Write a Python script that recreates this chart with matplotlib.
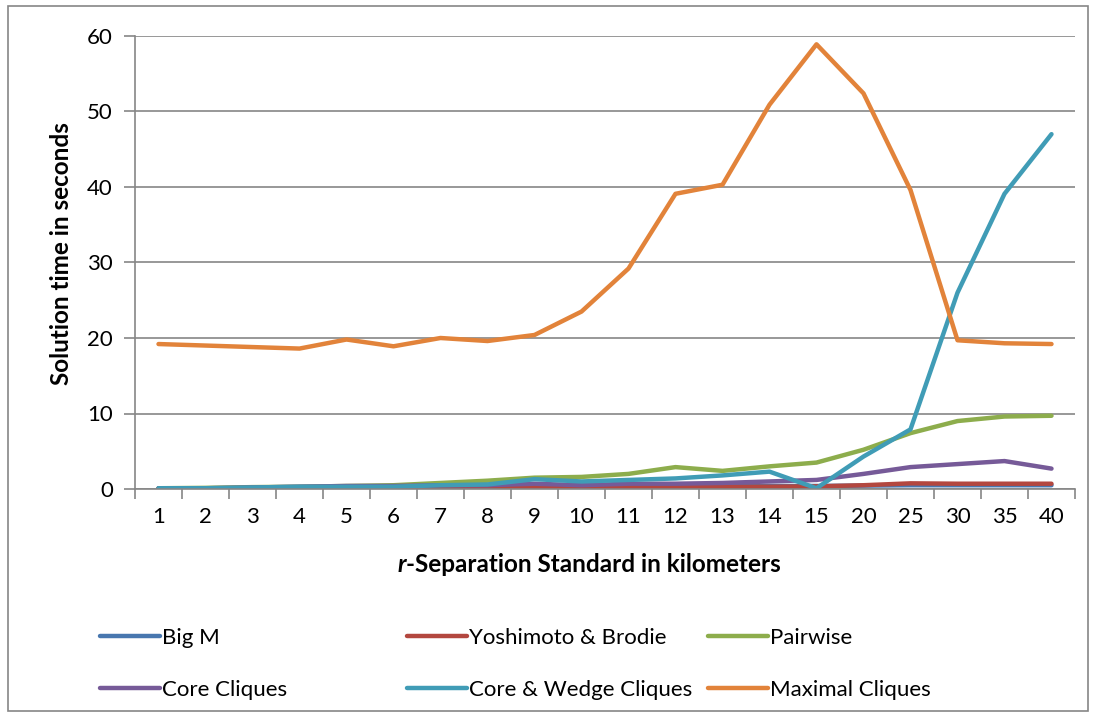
import matplotlib
matplotlib.use("Agg")
import matplotlib.pyplot as plt
from matplotlib.patches import Rectangle
import numpy as np

plt.rcParams['font.family'] = ['Lato', 'DejaVu Sans']

# r-separation standard (km) and solve times (s) for each formulation
separation = ["1", "2", "3", "4", "5", "6", "7", "8", "9", "10",
              "11", "12", "13", "14", "15", "20", "25", "30", "35", "40"]

big_m = [0.05, 0.05, 0.1, 0.1, 0.15, 0.15, 0.2, 0.2, 0.3, 0.3,
         0.3, 0.35, 0.35, 0.4, 0.4, 0.45, 0.5, 0.5, 0.5, 0.5]
yoshimoto_brodie = [0.05, 0.05, 0.1, 0.1, 0.1, 0.1, 0.15, 0.15, 0.2, 0.2,
                    0.25, 0.25, 0.3, 0.3, 0.35, 0.5, 0.75, 0.7, 0.7, 0.7]
pairwise = [0.1, 0.15, 0.25, 0.3, 0.4, 0.5, 0.8, 1.1, 1.5, 1.6,
            2.0, 2.9, 2.4, 3.0, 3.5, 5.2, 7.4, 9.0, 9.6, 9.7]
core_cliques = [0.1, 0.1, 0.2, 0.3, 0.4, 0.4, 0.5, 0.5, 0.7, 0.5,
                0.7, 0.7, 0.8, 1.0, 1.2, 2.0, 2.9, 3.3, 3.7, 2.7]
core_wedge = [0.1, 0.1, 0.2, 0.3, 0.3, 0.3, 0.5, 0.6, 1.3, 1.0,
              1.2, 1.4, 1.8, 2.3, 0.1, 4.3, 7.9, 26.0, 39.1, 47.0]
maximal_cliques = [19.2, 19.0, 18.8, 18.6, 19.8, 18.9, 20.0, 19.6, 20.4, 23.5,
                   29.2, 39.1, 40.3, 50.9, 58.9, 52.4, 39.6, 19.7, 19.3, 19.2]

series = [
    ("Big M", big_m, "#4877AF"),
    ("Yoshimoto & Brodie", yoshimoto_brodie, "#B3473F"),
    ("Pairwise", pairwise, "#8DAD4C"),
    ("Core Cliques", core_cliques, "#765A98"),
    ("Core & Wedge Cliques", core_wedge, "#409CB6"),
    ("Maximal Cliques", maximal_cliques, "#E2833A"),
]

W, H = 1094, 717
fig = plt.figure(figsize=(W / 100, H / 100), dpi=100)
ax = fig.add_axes([135 / W, 1 - 489 / H, 940 / W, 453 / H])

x = np.arange(len(separation))
lines = {}
for name, vals, col in series:
    ln, = ax.plot(x, vals, color=col, lw=3.2, solid_capstyle='round',
                  solid_joinstyle='round', label=name)
    lines[name] = ln

grid_col = "#868686"
ax.set_xlim(-0.5, len(separation) - 0.5)
ax.set_ylim(0, 60)
ax.set_yticks(np.arange(0, 61, 10))
ax.yaxis.grid(True, color=grid_col, lw=1.2)
ax.set_axisbelow(True)
ax.set_xticks(x)
ax.set_xticklabels(separation)
ax.set_xticks(np.arange(-0.5, len(separation), 1), minor=True)
ax.tick_params(axis='x', which='major', length=0, pad=13, labelsize=16)
ax.tick_params(axis='x', which='minor', length=7, color=grid_col, width=1.2)
ax.tick_params(axis='y', length=8, color=grid_col, width=1.2, pad=8, labelsize=16)
for s in ['top', 'right']:
    ax.spines[s].set_visible(False)
for s in ['left', 'bottom']:
    ax.spines[s].set_color(grid_col)
    ax.spines[s].set_linewidth(1.2)

fig.text(62 / W, 1 - 254 / H, "Solution time in seconds", fontsize=17.5,
         fontweight='bold', rotation=90, ha='center', va='center')

# x label with italic bold "r"
fig.text(406 / W, 1 - 564 / H, "r", fontsize=17.5, fontweight='bold',
         style='italic', ha='right', va='center')
fig.text(406 / W, 1 - 564 / H, "-Separation Standard in kilometers", fontsize=17.5,
         fontweight='bold', ha='left', va='center')

# legend in three columns below the plot
columns = [(["Big M", "Core Cliques"], 100),
           (["Yoshimoto & Brodie", "Core & Wedge Cliques"], 407),
           (["Pairwise", "Maximal Cliques"], 708)]
for names, xpix in columns:
    fig.legend([lines[n] for n in names], names, loc='upper left',
               bbox_to_anchor=(xpix / W, 1 - 628 / H), frameon=False,
               fontsize=16, handlelength=2.7, handletextpad=0.08,
               labelspacing=1.42, borderpad=0, borderaxespad=0)

fig.patches.append(Rectangle((8 / W, 6 / H), 1080 / W, 705 / H, transform=fig.transFigure,
                             fill=False, edgecolor=grid_col, lw=1.2))

fig.savefig("out.png", dpi=100)
